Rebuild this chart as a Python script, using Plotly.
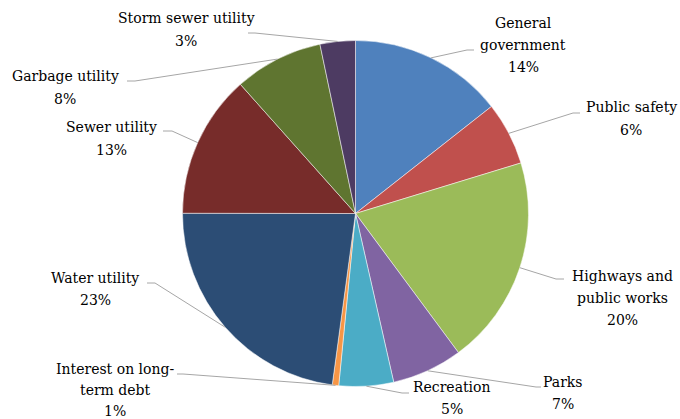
import math
import plotly.graph_objects as go

categories = ["General government", "Public safety", "Highways and public works", "Parks",
              "Recreation", "Interest on long-term debt", "Water utility", "Sewer utility",
              "Garbage utility", "Storm sewer utility"]
values = [14.4, 5.9, 19.6, 6.6, 5.1, 0.6, 22.9, 13.4, 8.3, 3.3]
label_lines = [["General", "government", "14%"], ["Public safety", "6%"],
               ["Highways and", "public works", "20%"], ["Parks", "7%"], ["Recreation", "5%"],
               ["Interest on long-", "term debt", "1%"], ["Water utility", "23%"],
               ["Sewer utility", "13%"], ["Garbage utility", "8%"], ["Storm sewer utility", "3%"]]
colors = ["#4F81BD", "#C0504D", "#9BBB59", "#8064A2", "#4BACC6", "#F79646",
          "#2C4D75", "#772C2A", "#5F7530", "#4D3B62"]

W, H = 680, 419
CX, CY, R = 355.5, 213.5, 173
label_pos = [(523, 23, 22), (631, 107, 23), (622, 276, 22), (563, 382, 22), (452, 387, 22),
             (115, 369, 21), (95, 278, 22), (111, 127, 23), (65, 76, 23), (186, 18, 23)]
elbows = [((467, 50), (474, 50)), ((573, 113), (580, 113)), ((556, 279), (564, 279)),
          ((536, 387), (541, 387)), ((402, 393), (409, 393)), ((183, 374), (177, 374)),
          ((155, 283), (147, 283)), ((172, 131), (163, 131)), ((135, 81), (127, 81)),
          ((255, 33), (248, 33))]
FONT = "DejaVu Serif"

fig = go.Figure(go.Pie(
    labels=categories, values=values, sort=False, direction="clockwise", rotation=0,
    marker=dict(colors=colors, line=dict(color="white", width=0.5)),
    textinfo="none", hoverinfo="label+percent", showlegend=False,
    domain=dict(x=[(CX - R) / W, (CX + R) / W], y=[1 - (CY + R) / H, 1 - (CY - R) / H]),
))

def px(x):
    return x / W

def py(y):
    return 1 - y / H

total = sum(values)
cum = 0
annotations = []
shapes = []
for i, v in enumerate(values):
    mid = (cum + v / 2) / total * 2 * math.pi
    cum += v
    ax = CX + R * math.sin(mid)
    ay = CY - R * math.cos(mid)
    (ex, ey), (hx, hy) = elbows[i]
    shapes.append(dict(type="path", xref="paper", yref="paper",
                       path=f"M {px(ax)} {py(ay)} L {px(ex)} {py(ey)} L {px(hx)} {py(hy)}",
                       line=dict(color="#A6A6A6", width=1)))
    tx, ty, gap = label_pos[i]
    for j, line in enumerate(label_lines[i]):
        annotations.append(dict(text=line, x=px(tx), y=py(ty + j * gap), xref="paper",
                                yref="paper", xanchor="center", yanchor="middle",
                                showarrow=False,
                                font=dict(family=FONT, size=14, color="#000000")))

fig.update_layout(width=W, height=H, margin=dict(l=0, r=0, t=0, b=0),
                  paper_bgcolor="white", plot_bgcolor="white",
                  font=dict(family=FONT),
                  annotations=annotations, shapes=shapes)
fig.write_html("out.html")
